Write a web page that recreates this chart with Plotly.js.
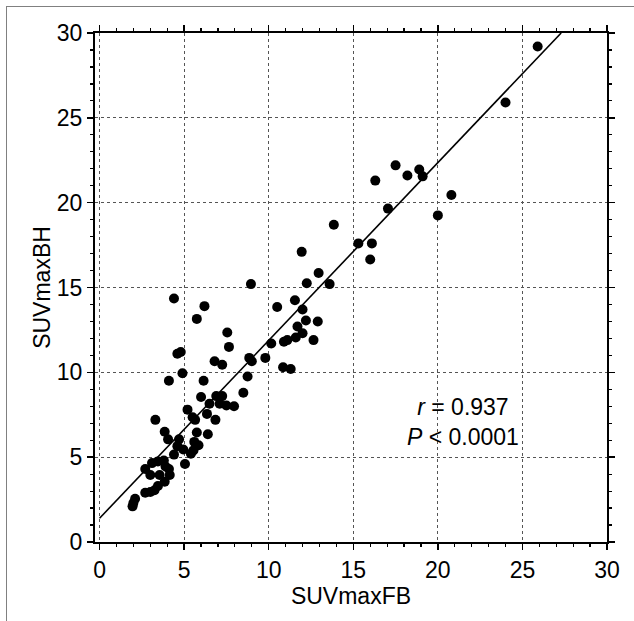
<!DOCTYPE html>
<html>
<head>
<meta charset="utf-8">
<script src="https://cdn.plot.ly/plotly-3.0.1.min.js"></script>
<style>
  html, body { margin: 0; padding: 0; background: #fff; }
  #chart { position: absolute; left: 0; top: 0; width: 634px; height: 621px; }
  #frame { position: absolute; left: 6px; top: 6px; width: 640px; height: 640px;
           border-top: 1px solid #808080; border-left: 1px solid #808080;
           pointer-events: none; z-index: 10; }
</style>
</head>
<body>
<div id="chart"></div>
<div id="frame"></div>
<script>
// SUVmax in free-breathing (FB) vs breath-hold (BH)
const suvFB = [
  25.9, 24.0, 17.5, 18.2, 18.9, 19.1, 20.8, 20.0, 17.05, 16.3,
  13.85, 15.3, 16.1, 16.0, 11.95, 12.95, 12.25, 13.6, 8.95, 10.5,
  11.55, 12.0, 12.2, 12.9, 11.7, 12.0, 11.6, 12.65, 10.15, 10.9,
  11.1, 6.2, 5.75, 4.4, 7.55, 7.65, 4.6, 4.8, 6.8, 7.25,
  8.85, 9.0, 9.8, 10.85, 11.3, 4.9, 4.1, 6.15, 8.75, 8.5,
  6.0, 6.9, 7.25, 6.5, 7.1, 7.5, 7.95, 5.2, 6.35, 5.5,
  5.65, 6.85, 3.3, 3.85, 4.05, 4.7, 5.75, 6.4, 5.6, 5.85,
  4.6, 4.95, 4.4, 5.55, 5.4, 5.05, 3.45, 3.1, 2.7, 3.9,
  4.1, 4.15, 3.55, 3.0, 3.85, 3.45, 3.25, 3.0, 2.7, 2.1,
  1.95, 2.0, 3.8
];
const suvBH = [
  29.2, 25.9, 22.2, 21.6, 21.95, 21.55, 20.45, 19.25, 19.65, 21.3,
  18.7, 17.6, 17.6, 16.65, 17.1, 15.85, 15.25, 15.2, 15.2, 13.85,
  14.25, 13.7, 13.05, 13.0, 12.7, 12.3, 12.05, 11.9, 11.7, 11.8,
  11.9, 13.9, 13.15, 14.35, 12.35, 11.5, 11.1, 11.2, 10.65, 10.45,
  10.85, 10.65, 10.85, 10.3, 10.2, 9.95, 9.5, 9.5, 9.75, 8.8,
  8.55, 8.6, 8.6, 8.15, 8.15, 8.05, 8.0, 7.8, 7.55, 7.35,
  7.2, 7.2, 7.2, 6.5, 6.05, 6.05, 6.45, 6.35, 5.9, 5.7,
  5.65, 5.45, 5.15, 5.4, 5.2, 4.6, 4.75, 4.65, 4.3, 4.45,
  4.3, 3.95, 3.95, 3.95, 3.55, 3.3, 3.05, 2.95, 2.9, 2.55,
  2.1, 2.3, 4.8
];
// regression line
const fitSlope = 1.048;
const fitIntercept = 1.4;
const fitX = [0, (30 - fitIntercept) / fitSlope];
const fitY = fitX.map(v => fitIntercept + fitSlope * v);

const tickVals = [0, 5, 10, 15, 20, 25, 30];
const xTitle = 'SUVmaxFB';
const yTitle = 'SUVmaxBH';
const statText = '<i>r</i> = 0.937<br><i>P</i> &lt; 0.0001';

const FONT = 'Liberation Sans, Arial, sans-serif';

const traces = [
  {
    x: fitX, y: fitY, type: 'scatter', mode: 'lines',
    line: { color: '#000', width: 1.6 }, hoverinfo: 'skip'
  },
  {
    x: suvFB, y: suvBH, type: 'scatter', mode: 'markers',
    marker: { color: '#000', size: 10, line: { width: 0 } }
  }
];

const axisCommon = {
  tickvals: tickVals,
  ticktext: tickVals.map(String),
  showline: true, linecolor: '#000', linewidth: 2,
  mirror: 'ticks',
  ticks: 'outside', ticklen: 6, tickwidth: 1.5, tickcolor: '#000',
  showgrid: true, gridcolor: '#555', gridwidth: 1, griddash: 'dot',
  zeroline: false,
  tickfont: { family: FONT, size: 23, color: '#000' },
  minor: { dtick: 1, ticks: 'outside', ticklen: 3, tickwidth: 1.2, tickcolor: '#000', showgrid: false }
};

const layout = {
  width: 634, height: 621,
  margin: { l: 95, r: 27, t: 33, b: 79 },
  paper_bgcolor: '#fff', plot_bgcolor: '#fff',
  showlegend: false,
  font: { family: FONT, color: '#000' },
  xaxis: Object.assign({}, axisCommon, {
    range: [-0.27, 30],
    title: { text: xTitle, font: { family: FONT, size: 23, color: '#000' }, standoff: 4 }
  }),
  yaxis: Object.assign({}, axisCommon, {
    range: [0, 30],
    title: { text: yTitle, font: { family: FONT, size: 23, color: '#000' }, standoff: 0 }
  }),
  annotations: [{
    x: 21.5, y: 7.1, xref: 'x', yref: 'y',
    text: statText, showarrow: false, align: 'center',
    font: { family: FONT, size: 23, color: '#000' }
  }]
};

Plotly.newPlot('chart', traces, layout, { displayModeBar: false, staticPlot: true });
</script>
</body>
</html>
